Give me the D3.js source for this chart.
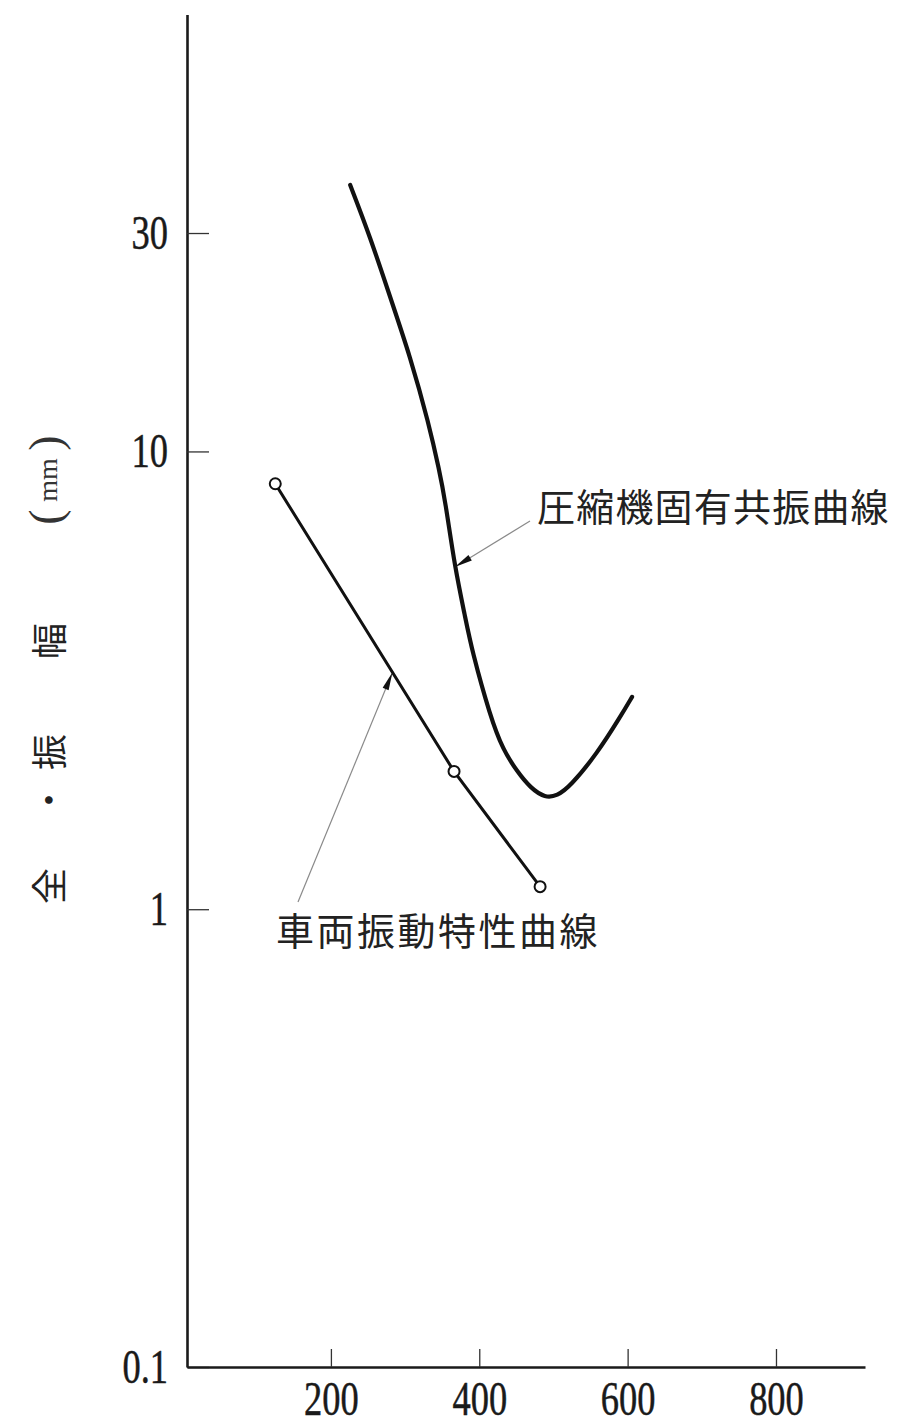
<!DOCTYPE html>
<html>
<head>
<meta charset="utf-8">
<script src="https://cdn.jsdelivr.net/npm/d3@7"></script>
<style>
  html, body { margin: 0; padding: 0; background: #fff; }
  svg { display: block; }
  .tick text { font-family: "Liberation Serif", "DejaVu Serif", serif; fill: #1a1a1a; stroke: #1a1a1a; stroke-width: 0.5px; }
  .cjk { font-family: "Noto Sans CJK JP", sans-serif; fill: #222; }
  .serif { font-family: "Liberation Serif", "DejaVu Serif", serif; fill: #333; }
</style>
</head>
<body>
<svg id="chart" width="918" height="1427"></svg>
<script>
// Frequency (x) tick values and amplitude (y, log) tick values
const xTicks = [200, 400, 600, 800];
const yTicks = [0.1, 1, 10, 30];

// 圧縮機固有共振曲線 : [frequency, full amplitude mm]
const compressorX = [226, 253, 280, 307, 332, 346, 354, 367, 381, 390, 415, 432, 451, 469, 489, 505, 522, 559, 590, 606];
const compressorY = [38.2, 29.4, 21.7, 16.1, 11.5, 9.11, 7.83, 5.59, 4.35, 3.68, 2.63, 2.23, 2.0, 1.84, 1.75, 1.77, 1.85, 2.19, 2.63, 2.91];

// 車両振動特性曲線 : measured points
const vehicleX = [125, 366, 482];
const vehicleY = [8.5, 2.0, 1.12];

const compressorLabel = "圧縮機固有共振曲線";
const vehicleLabel = "車両振動特性曲線";

const svg = d3.select("#chart");

const x = d3.scaleLinear().domain([6, 920]).range([187, 865]);
const y = d3.scaleLog().domain([0.1, 90]).range([1367, 14.6]);

const digitSquash = 0.76;

// Y axis (log), ticks pointing into the plot
const gy = svg.append("g")
  .attr("transform", `translate(${x(6)},0)`)
  .call(d3.axisLeft(y).tickValues(yTicks).tickFormat(d3.format("~g"))
    .tickSizeInner(-22).tickSizeOuter(0).tickPadding(25));
gy.select(".domain").attr("stroke", "#1a1a1a").attr("stroke-width", 2.6);
gy.selectAll(".tick line").attr("stroke", "#333").attr("stroke-width", 1.3);
gy.selectAll(".tick text").attr("font-size", 48).attr("transform", `scale(${digitSquash},1)`);

// X axis, ticks pointing up
const gx = svg.append("g")
  .attr("transform", `translate(0,${y(0.1)})`)
  .call(d3.axisBottom(x).tickValues(xTicks).tickFormat(d3.format("d"))
    .tickSizeInner(-18).tickSizeOuter(0).tickPadding(14));
gx.select(".domain").attr("stroke", "#1a1a1a").attr("stroke-width", 2.6);
gx.selectAll(".tick line").attr("stroke", "#333").attr("stroke-width", 1.3);
gx.selectAll(".tick text").attr("font-size", 48).attr("transform", `scale(${digitSquash},1)`);

// Curves
const compressor = compressorX.map((v, i) => [v, compressorY[i]]);
const vehicle = vehicleX.map((v, i) => [v, vehicleY[i]]);

svg.append("path")
  .datum(compressor)
  .attr("d", d3.line().x(d => x(d[0])).y(d => y(d[1])).curve(d3.curveBasis))
  .attr("fill", "none").attr("stroke", "#111").attr("stroke-width", 4.2)
  .attr("stroke-linecap", "round").attr("stroke-linejoin", "round");

svg.append("path")
  .datum(vehicle)
  .attr("d", d3.line().x(d => x(d[0])).y(d => y(d[1])).curve(d3.curveLinear))
  .attr("fill", "none").attr("stroke", "#111").attr("stroke-width", 3);

svg.selectAll("circle.pt").data(vehicle).join("circle")
  .attr("class", "pt")
  .attr("cx", d => x(d[0])).attr("cy", d => y(d[1])).attr("r", 5.5)
  .attr("fill", "#fff").attr("stroke", "#111").attr("stroke-width", 2);

// Point on the vehicle polyline at a given frequency (log interpolation)
function vehicleAt(f) {
  for (let i = 0; i < vehicle.length - 1; i++) {
    const a = vehicle[i], b = vehicle[i + 1];
    if (f >= a[0] && f <= b[0]) {
      const t = (f - a[0]) / (b[0] - a[0]);
      return [f, Math.exp(Math.log(a[1]) + t * (Math.log(b[1]) - Math.log(a[1])))];
    }
  }
  return vehicle[0];
}

// Leader line with a small dark arrowhead at the curve end
function leader(x0, y0, tip) {
  const tx = x(tip[0]), ty = y(tip[1]);
  const dx = tx - x0, dy = ty - y0, len = Math.hypot(dx, dy);
  const ux = dx / len, uy = dy / len;
  svg.append("line")
    .attr("x1", x0).attr("y1", y0).attr("x2", tx - ux * 4).attr("y2", ty - uy * 4)
    .attr("stroke", "#8a8a8a").attr("stroke-width", 1.2);
  const L = 18, W = 3.2;
  const bx = tx - ux * L, by = ty - uy * L;
  svg.append("polygon")
    .attr("points", [[tx, ty], [bx - uy * W, by + ux * W], [bx + uy * W, by - ux * W]].map(p => p.join(",")).join(" "))
    .attr("fill", "#111");
}

leader(530, 521, [367, 5.59]);
leader(298, 902, vehicleAt(283));

// Curve labels
svg.append("text").attr("class", "cjk")
  .attr("x", 537).attr("y", 507).attr("dy", "0.36em")
  .attr("font-size", 38).attr("letter-spacing", 1.2)
  .text(compressorLabel);

svg.append("text").attr("class", "cjk")
  .attr("x", 276).attr("y", 931).attr("dy", "0.36em")
  .attr("font-size", 38).attr("letter-spacing", 2.5)
  .text(vehicleLabel);

// Rotated Y axis title: 全・振 幅 (mm)
const yLabelParts = [
  { t: "全", pos: 886, size: 36, cls: "cjk", dy: "0.36em" },
  { t: "・", pos: 800, size: 36, cls: "cjk", dy: "0.36em" },
  { t: "振", pos: 752, size: 36, cls: "cjk", dy: "0.36em" },
  { t: "幅", pos: 641, size: 36, cls: "cjk", dy: "0.36em" },
  { t: "(", pos: 517, size: 46, cls: "serif", dy: "0.24em" },
  { t: "mm", pos: 480, size: 28, cls: "serif", dy: "0.24em" },
  { t: ")", pos: 443, size: 46, cls: "serif", dy: "0.24em" }
];
const gl = svg.append("g").attr("transform", "translate(50,0) rotate(-90)");
gl.selectAll("text").data(yLabelParts).join("text")
  .attr("class", d => d.cls)
  .attr("x", d => -d.pos).attr("y", 0).attr("dy", d => d.dy)
  .attr("text-anchor", "middle")
  .attr("font-size", d => d.size)
  .text(d => d.t);
</script>
</body>
</html>
